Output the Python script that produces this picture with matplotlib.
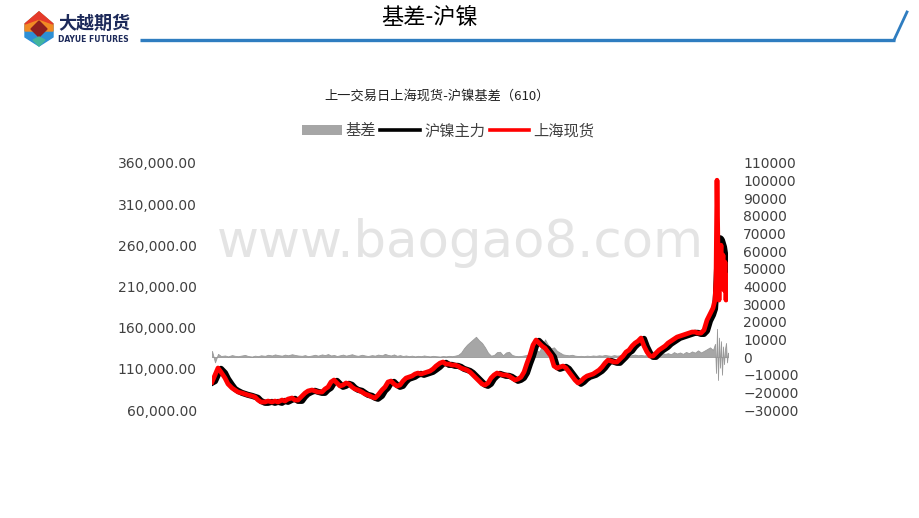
import matplotlib
matplotlib.use("Agg")
import matplotlib.pyplot as plt
from matplotlib.patches import Patch, Polygon
from matplotlib.lines import Line2D
from matplotlib.ticker import FuncFormatter

plt.rcParams['font.family'] = ['Noto Sans CJK SC', 'DejaVu Sans']

# period index (trading periods since contract start)
t = [0, 3, 6, 9, 13, 16, 20, 23, 26, 30,
     33, 36, 40, 43, 46, 49, 53, 56, 60, 63,
     66, 70, 73, 76, 80, 83, 86, 90, 93, 96,
     100, 103, 106, 110, 113, 116, 119, 122, 125, 128,
     131, 134, 137, 140, 143, 146, 150, 153, 156, 160,
     163, 166, 170, 173, 176, 179, 182, 185, 188, 191,
     194, 197, 200, 203, 206, 209, 212, 215, 218, 221,
     224, 228, 231, 234, 237, 240, 243, 246, 249, 252,
     255, 258, 261, 264, 267, 270, 273, 276, 279, 282,
     285, 288, 291, 294, 297, 300, 303, 306, 309, 312,
     315, 318, 321, 324, 327, 330, 333, 336, 339, 342,
     345, 348, 351, 354, 357, 360, 363, 366, 369, 372,
     375, 378, 381, 384, 387, 390, 393, 396, 399, 402,
     405, 408, 411, 414, 417, 420, 423, 426, 429, 432,
     435, 438, 441, 444, 447, 450, 453, 456, 459, 462,
     465, 468, 471, 474, 477, 480, 483, 486, 489, 492,
     495, 498, 501, 503, 504, 505, 506, 507, 508, 509,
     510, 511, 512, 513, 514, 515, 516]

# 上海现货
spot = [94000, 102500, 111000, 106100, 98800, 91600, 86700, 84300, 81800, 80600,
        79400, 78200, 77000, 75800, 72100, 69700, 69700, 70900, 69700, 70900,
        69700, 72100, 70900, 73300, 74600, 72100, 72100, 77000, 80600, 83100,
        84300, 83100, 81800, 81800, 85500, 87900, 94000, 96400, 92800, 89100,
        90300, 92800, 91600, 87900, 85500, 84300, 81800, 79400, 78200, 75800,
        74600, 78200, 84300, 87900, 94000, 95200, 91600, 89100, 90300, 95200,
        98800, 100000, 101300, 103700, 104900, 103700, 104900, 106100, 107300, 109800,
        113400, 117000, 118300, 115800, 115800, 114600, 114600, 113400, 111000, 109800,
        108500, 106100, 102500, 98800, 95200, 91600, 90300, 92800, 98800, 102500,
        104900, 103700, 102500, 102500, 101300, 98800, 96400, 97600, 100000, 106100,
        117000, 126700, 138900, 145000, 141300, 137700, 135200, 130400, 125500, 113400,
        111000, 112200, 113400, 111000, 106100, 101300, 96400, 92800, 95200, 98800,
        101300, 102500, 103700, 106100, 108500, 112200, 117000, 120700, 119500, 118300,
        118300, 121900, 125500, 130400, 132800, 137700, 141300, 143700, 147400, 137700,
        130400, 125500, 125500, 129200, 132800, 135200, 137700, 141300, 143700, 146200,
        148600, 149800, 151000, 152200, 153400, 154700, 154700, 153400, 153400, 157100,
        169200, 176500, 183800, 193500, 217800, 339100, 254200, 193500, 239600, 260200,
        229900, 248100, 205600, 239600, 193500, 223800, 211700]

# 沪镍主力
futures = [93000, 95000, 103000, 110000, 105000, 97800, 90600, 85700, 83300, 80800,
           79600, 78400, 77200, 76000, 74800, 71100, 68700, 68700, 69900, 68700,
           69900, 68700, 71100, 69900, 72300, 73600, 71100, 71100, 76000, 79600,
           82100, 83300, 82100, 80800, 80800, 84500, 86900, 93000, 95400, 91800,
           88100, 89300, 91800, 90600, 86900, 84500, 83300, 80800, 78400, 77200,
           74800, 73600, 77200, 83300, 86900, 93000, 94200, 90600, 88100, 89300,
           94200, 97800, 99000, 100300, 102700, 103900, 102700, 103900, 105100, 106300,
           108800, 112400, 116000, 117300, 114800, 114800, 113600, 113600, 112400, 110000,
           108800, 107500, 105100, 101500, 97800, 94200, 90600, 89300, 91800, 97800,
           101500, 103900, 102700, 101500, 101500, 100300, 97800, 95400, 96600, 99000,
           105100, 116000, 125700, 137900, 144000, 140300, 136700, 134200, 129400, 124500,
           112400, 110000, 111200, 112400, 110000, 105100, 100300, 95400, 91800, 94200,
           97800, 100300, 101500, 102700, 105100, 107500, 111200, 116000, 119700, 118500,
           117300, 117300, 120900, 124500, 129400, 131800, 136700, 140300, 142700, 146400,
           136700, 129400, 124500, 124500, 128200, 131800, 134200, 136700, 140300, 142700,
           145200, 147600, 148800, 150000, 151200, 152400, 153700, 153700, 152400, 152400,
           156100, 168200, 175500, 182800, 200000, 230000, 255000, 266000, 268700, 268000,
           266000, 262000, 258000, 250000, 240000, 235000, 229900]

# 基差
basis = [3500, -3000, 1800, 600, 900, 400, 1100, 700, 500, 900,
         1200, 600, 300, 800, 500, 1000, 700, 1300, 900, 1500,
         1100, 800, 1400, 1000, 1600, 1200, 900, 700, 1100, 500,
         900, 1300, 800, 1500, 1100, 1700, 900, 1200, 600, 1000,
         1400, 800, 1200, 1600, 1000, 700, 1300, 900, 600, 1100,
         800, 1400, 1000, 1800, 1200, 900, 1500, 700, 1100, 600,
         900, 500, 800, 400, 700, 500, 900, 600, 400, 700,
         500, 300, 600, 400, 700, 500, 800, 1200, 2500, 5000,
         7000, 8500, 10000, 11500, 9500, 8000, 5500, 2500, 800, 1200,
         2800, 3000, 1000, 2600, 3000, 1200, 700, 500, 600, 900,
         1200, 2000, 3500, 4000, 3000, 6000, 10000, 7000, 5000, 5500,
         3500, 2500, 1500, 1200, 1000, 1300, 800, 600, 700, 500,
         800, 600, 900, 700, 1000, 800, 1200, 900, 700, 1100,
         800, 1000, 1300, 900, 1500, 1100, 1400, 1000, 1200, 900,
         1100, 1300, 1500, 2200, 1600, 2500, 1800, 2200, 1600, 2800,
         2000, 2600, 1800, 2900, 2200, 3200, 2500, 3800, 2600, 3500,
         4500, 5500, 4000, 7500, -9000, 16000, -13000, 11000, -6000, 9000,
         -10000, 6000, -4000, 4500, 8000, -3000, 2500]

left_ticks = list(range(60000, 360001, 50000))
right_ticks = list(range(-30000, 110001, 10000))
labels = ['基差', '沪镍主力', '上海现货']

fig = plt.figure(figsize=(9.2, 5.18), dpi=100)
W, H = 920, 518

# header
hdr = fig.add_axes([0, 0, 1, 1])
hdr.set_xlim(0, W)
hdr.set_ylim(H, 0)
hdr.axis('off')
hdr.add_patch(Polygon([(39, 12), (53, 24), (53, 37), (39, 46), (25, 37), (25, 24)], color='#2d8fd5'))
hdr.add_patch(Polygon([(39, 12), (53, 24), (53, 31), (25, 31), (25, 24)], color='#f08a24'))
hdr.add_patch(Polygon([(39, 12), (53, 24), (39, 19), (25, 24)], color='#e53a2b'))
hdr.add_patch(Polygon([(39, 21), (47, 29), (39, 37), (31, 29)], color='#8e1f1f'))
hdr.add_patch(Polygon([(33, 40), (39, 46), (45, 40), (39, 37)], color='#43b59c'))
hdr.text(58, 23, '大越期货', fontsize=13, fontweight='bold', color='#1d2a5a', va='center', ha='left')
hdr.text(58, 39, 'DAYUE FUTURES', fontsize=5.5, fontweight='bold', color='#1d2a5a',
         va='center', ha='left', family='DejaVu Sans')
hdr.plot([140, 895], [40, 40], color='#2f7dc0', lw=2.4, solid_capstyle='butt')
hdr.plot([894, 907], [40, 12], color='#2f7dc0', lw=2.0)
hdr.text(430, 18, '基差-沪镍', fontsize=16, color='black', ha='center', va='center')

fig.text(437 / W, 1 - 96 / H, '上一交易日上海现货-沪镍基差（610）', fontsize=9.5,
         color='#222222', ha='center', va='center')

# chart
ax = fig.add_axes([212 / W, 1 - 410 / H, 516 / W, 247 / H])
ax2 = ax.twinx()
ax.set_zorder(2)
ax2.set_zorder(1)
ax.patch.set_visible(False)

ax2.fill_between(t, basis, 0, color='#a6a6a6', edgecolor='#999999', lw=0.6)
ax.plot(t, futures, color='black', lw=4.4)
ax.plot(t, spot, color='#ff0000', lw=3.4)

ax.set_xlim(0, 516)
ax.set_ylim(60000, 360000)
ax2.set_ylim(-30000, 110000)
ax.set_yticks(left_ticks)
ax2.set_yticks(right_ticks)
ax.yaxis.set_major_formatter(FuncFormatter(lambda v, p: f'{v:,.2f}'))
ax2.yaxis.set_major_formatter(FuncFormatter(lambda v, p: f'{int(v)}'.replace('-', '\u2212')))
ax.set_xticks([])
for a in (ax, ax2):
    for s in a.spines.values():
        s.set_visible(False)
    a.tick_params(axis='y', length=0, labelsize=10, labelcolor='#404040')
    for lab in a.get_yticklabels():
        lab.set_family('DejaVu Sans')
ax.tick_params(axis='y', pad=11)
ax2.tick_params(axis='y', pad=11)

ax.text(460 / W, 1 - 243 / H, 'www.baogao8.com', transform=fig.transFigure, fontsize=37,
        color='#e4e4e4', ha='center', va='center', zorder=0, family='DejaVu Sans')

handles = [Patch(facecolor='#a6a6a6', edgecolor='none'),
           Line2D([], [], color='black', lw=2.6),
           Line2D([], [], color='#ff0000', lw=2.6)]
fig.legend(handles, labels, loc='center', bbox_to_anchor=(448 / W, 1 - 131 / H), ncol=3,
           frameon=False, fontsize=11, handlelength=2.6, handleheight=0.55,
           handletextpad=0.25, columnspacing=0.3, labelcolor='#404040')

fig.savefig('out.png', dpi=100)
